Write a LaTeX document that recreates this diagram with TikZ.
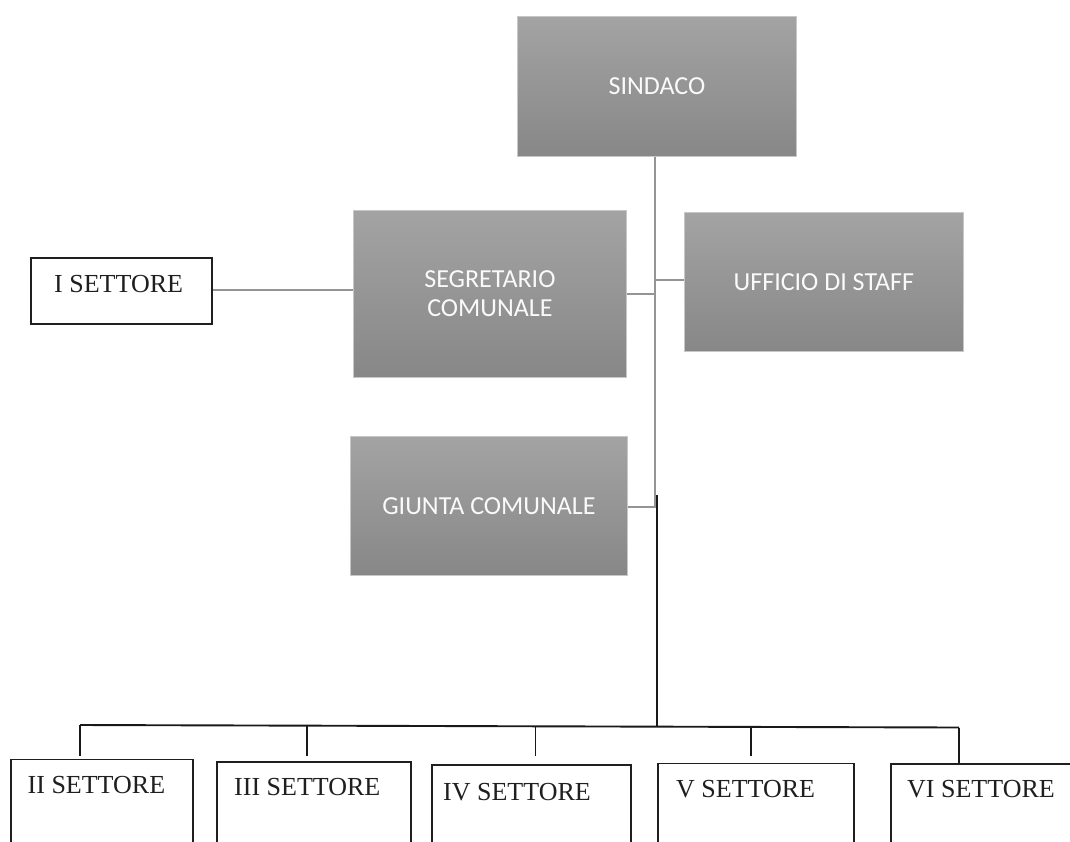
\documentclass[tikz,border=0pt]{standalone}
\usepackage{fontspec}
\setmainfont{Liberation Serif}
\newfontfamily\calib{Carlito}
\begin{document}
\begin{tikzpicture}[x=1pt,y=-1pt,
  graybox/.style={rectangle, anchor=north west, draw=black!22, line width=0.8pt,
    top color=black!36, bottom color=black!47, text=black!2,
    font=\calib\fontsize{26}{28.5}\selectfont, align=center, inner sep=0pt},
  sectbox/.style={rectangle, anchor=north west, draw=black!88, line width=1.8pt, fill=white, inner sep=0pt},
  secttext/.style={anchor=base west, inner sep=0pt, text=black!88, font=\fontsize{26}{28}\selectfont},
  grayline/.style={draw=black!42, line width=1.9pt},
  blackline/.style={draw=black!90, line width=1.9pt}]
\useasboundingbox (0,0) rectangle (1070,841);
\fill[white] (0,0) rectangle (1070,841);

% gray boxes
\node[graybox, minimum width=279pt, minimum height=140pt] (sind) at (517,16) {SINDACO};
\node[graybox, minimum width=273pt, minimum height=167pt] (segr) at (353,210) {SEGRETARIO\\COMUNALE};
\node[graybox, minimum width=279pt, minimum height=139pt] (uff) at (684,212) {UFFICIO DI STAFF};
\node[graybox, minimum width=277pt, minimum height=139pt] (giun) at (350,436) {GIUNTA COMUNALE};

% sector boxes
\node[sectbox, minimum width=181pt, minimum height=66pt] (s1) at (30,257) {};
\node[secttext] (t1) at (54,292) {I SETTORE};
\node[sectbox, minimum width=182pt, minimum height=110pt] (s2) at (10,758.5) {};
\node[secttext] (t2) at (27.5,793.7) {II SETTORE};
\node[sectbox, minimum width=194pt, minimum height=110pt] (s3) at (216,761) {};
\node[secttext] (t3) at (234,795.7) {III SETTORE};
\node[sectbox, minimum width=199pt, minimum height=110pt] (s4) at (431,764) {};
\node[secttext] (t4) at (443,800.5) {IV SETTORE};
\node[sectbox, minimum width=196pt, minimum height=110pt] (s5) at (657,762.5) {};
\node[secttext] (t5) at (676,797.5) {V SETTORE};
\node[sectbox, minimum width=200pt, minimum height=110pt] (s6) at (890,763) {};
\node[secttext] (t6) at (907,797.5) {VI SETTORE};

% gray connectors
\coordinate (jseg) at (655,294);
\coordinate (juff) at (655,280);
\coordinate (jgiu) at (655,507);
\draw[grayline] (sind.south -| jgiu) -- (jgiu) -- (giun.east |- jgiu);
\draw[grayline] (segr.east |- jseg) -- (jseg);
\draw[grayline] (juff) -- (uff.west |- juff);
\draw[grayline] (s1.east |- 0,290) -- (segr.west |- 0,290);

% black connectors
\coordinate (btop) at (657,495);
\coordinate (bbar) at (657,726);
\coordinate (b2) at (80,725);
\coordinate (b3) at (307,725.5);
\coordinate (b4) at (535.5,726);
\coordinate (b5) at (751,727);
\coordinate (b6) at (959,727.5);
\draw[blackline] (btop) -- (bbar);
\draw[blackline] (b2) -- (b6);
\draw[blackline, shorten >=2.5pt] (b2) -- (b2 |- s2.north);
\draw[blackline, shorten >=5pt] (b3) -- (b3 |- s3.north);
\draw[blackline, shorten >=8pt] (b4) -- (b4 |- s4.north);
\draw[blackline, shorten >=7pt] (b5) -- (b5 |- s5.north);
\draw[blackline] (b6) -- (b6 |- s6.north);
\end{tikzpicture}
\end{document}
